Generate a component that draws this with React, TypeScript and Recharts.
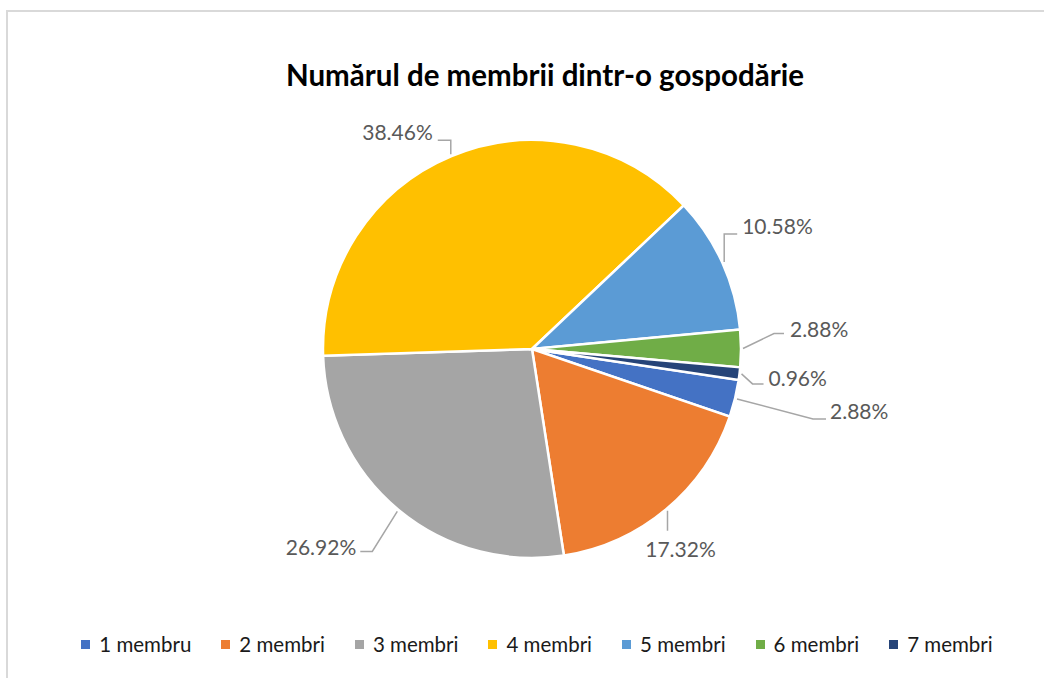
import { PieChart, Pie, Cell, Legend } from 'recharts'

const CATEGORIES = ['1 membru', '2 membri', '3 membri', '4 membri', '5 membri', '6 membri', '7 membri']
const SHARES = [2.88, 17.32, 26.92, 38.46, 10.58, 2.88, 0.96]
const COLORS = ['#4472C4', '#ED7D31', '#A5A5A5', '#FFC000', '#5B9BD5', '#70AD47', '#264478']

const TITLE = 'Numărul de membrii dintr-o gospodărie'
const FONT = 'Lato, "Open Sans", sans-serif'

// leader-line elbow/end and text placement, relative to the slice edge point (Excel "best fit")
const LABEL_LAYOUT = [
  { elbow: [76, 20], end: [89, 20], anchor: 'start', tx: 4, ty: -8 },
  { elbow: [0, 20], end: [0, 20], anchor: 'middle', tx: 13, ty: 18 },
  { elbow: [-25, 40], end: [-37, 40], anchor: 'end', tx: -4, ty: -5 },
  { elbow: [0, -14], end: [-13, -14], anchor: 'end', tx: -5, ty: -9 },
  { elbow: [0, -28], end: [13, -28], anchor: 'start', tx: 5, ty: -8 },
  { elbow: [31, -15], end: [41, -15], anchor: 'start', tx: 6, ty: -5 },
  { elbow: [11, 10], end: [22, 10], anchor: 'start', tx: 5, ty: -6 },
]

const data = CATEGORIES.map((name, i) => ({ name, value: SHARES[i] }))

const RAD = Math.PI / 180

function renderLabel(props: any) {
  const { cx, cy, midAngle, outerRadius, index, value } = props
  const lay = LABEL_LAYOUT[index]
  const x0 = cx + (outerRadius + 2) * Math.cos(-midAngle * RAD)
  const y0 = cy + (outerRadius + 2) * Math.sin(-midAngle * RAD)
  const ex = x0 + lay.elbow[0]
  const ey = y0 + lay.elbow[1]
  const fx = x0 + lay.end[0]
  const fy = y0 + lay.end[1]
  return (
    <g>
      <polyline
        points={`${x0},${y0} ${ex},${ey} ${fx},${fy}`}
        fill="none"
        stroke="#A6A6A6"
        strokeWidth={1.5}
      />
      <text
        x={fx + lay.tx}
        y={fy + lay.ty}
        textAnchor={lay.anchor}
        dominantBaseline="central"
        fill="#595959"
        fontSize={21}
        fontFamily={FONT}
      >
        {Number(value).toFixed(2)}%
      </text>
    </g>
  )
}

function LegendContent() {
  return (
    <div style={{ display: 'flex', justifyContent: 'center', gap: 30, fontFamily: FONT, fontSize: 20.5, color: '#1a1a1a' }}>
      {CATEGORIES.map((c, i) => (
        <div key={c} style={{ display: 'flex', alignItems: 'center' }}>
          <span style={{ width: 9, height: 9, background: COLORS[i], marginRight: 9, display: 'inline-block' }} />
          <span>{c}</span>
        </div>
      ))}
    </div>
  )
}

export default function App() {
  return (
    <div style={{ position: 'absolute', left: 0, top: 0, width: 1044, height: 678, overflow: 'hidden', background: '#fff' }}>
      <div
        style={{
          position: 'absolute',
          left: 6,
          top: 10,
          width: 1100,
          height: 700,
          border: '2px solid #D9D9D9',
        }}
      />
      <div
        style={{
          position: 'absolute',
          left: 0,
          top: 57,
          width: 1090,
          textAlign: 'center',
          fontFamily: FONT,
          fontWeight: 700,
          fontSize: 29.5,
          color: '#000',
        }}
      >
        {TITLE}
      </div>
      <div style={{ position: 'absolute', left: 0, top: 0 }}>
        <PieChart width={1044} height={678} margin={{ top: 0, right: 0, bottom: 0, left: 0 }}>
          <Pie
            data={data}
            dataKey="value"
            nameKey="name"
            cx={532}
            cy={349}
            outerRadius={209}
            startAngle={-8.5}
            endAngle={-368.5}
            stroke="#FFFFFF"
            strokeWidth={2.5}
            label={renderLabel}
            labelLine={false}
            isAnimationActive={false}
          >
            {data.map((_, i) => (
              <Cell key={i} fill={COLORS[i]} />
            ))}
          </Pie>
          <Legend
            content={<LegendContent />}
            wrapperStyle={{ position: 'absolute', left: 0, top: 632, width: 1074 }}
          />
        </PieChart>
      </div>
    </div>
  )
}
